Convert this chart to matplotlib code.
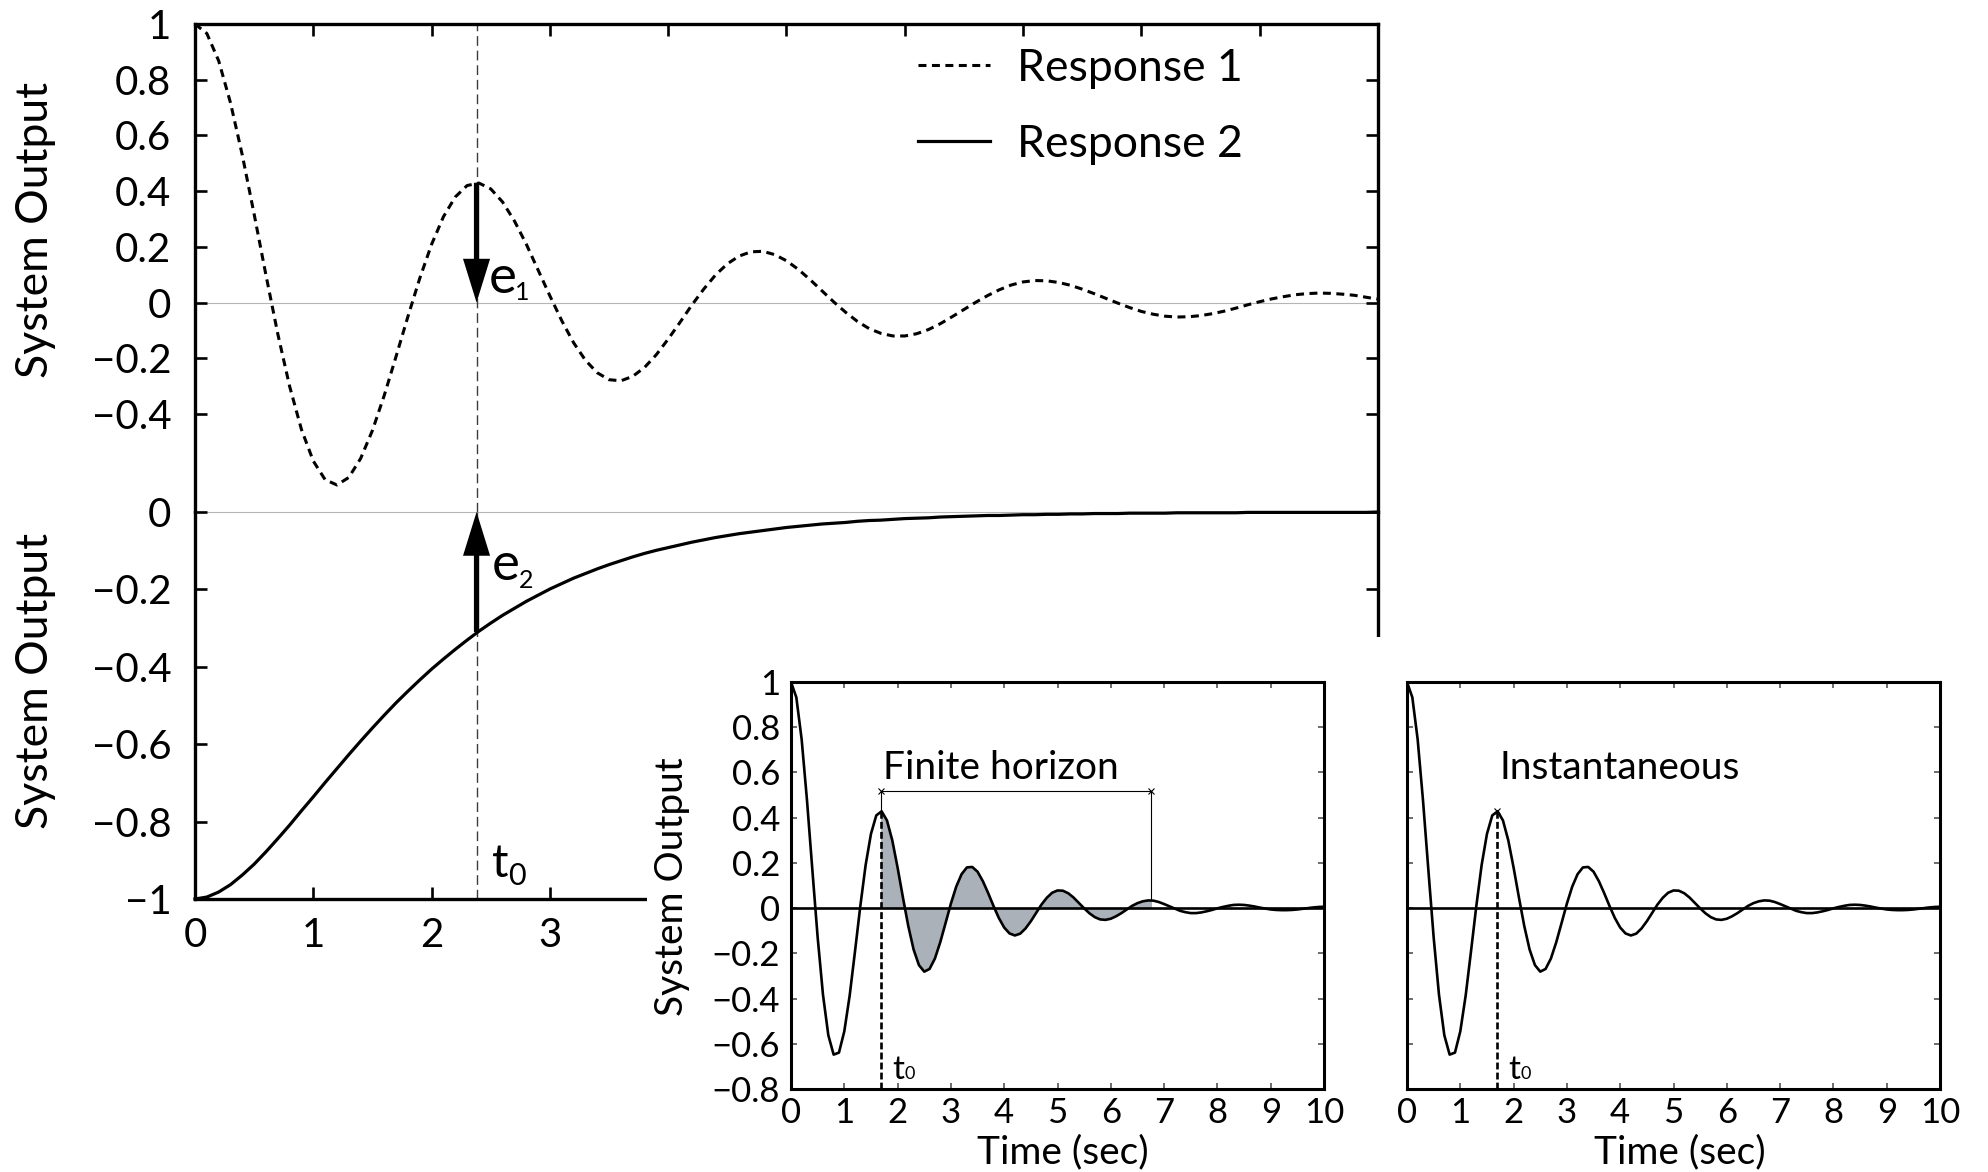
import numpy as np
import matplotlib
matplotlib.use("Agg")
import matplotlib.pyplot as plt
from matplotlib.patches import FancyArrowPatch, Rectangle

plt.rcParams["font.family"] = ["Lato", "DejaVu Sans"]
plt.rcParams["mathtext.default"] = "regular"

# ---------------------------------------------------------------- data
time_main = np.linspace(0, 10, 101)

response_1 = [
    1.000, 0.966, 0.868, 0.717, 0.529, 0.317, 0.098, -0.113, -0.301, -0.456,
    -0.569, -0.636, -0.655, -0.628, -0.560, -0.459, -0.333, -0.193, -0.050, 0.087,
    0.209, 0.308, 0.379, 0.420, 0.429, 0.408, 0.361, 0.293, 0.210, 0.117,
    0.024, -0.065, -0.144, -0.207, -0.252, -0.277, -0.281, -0.265, -0.233, -0.187,
    -0.131, -0.071, -0.009, 0.048, 0.099, 0.139, 0.167, 0.182, 0.184, 0.172,
    0.150, 0.119, 0.082, 0.042, 0.002, -0.035, -0.068, -0.094, -0.111, -0.120,
    -0.120, -0.112, -0.097, -0.076, -0.051, -0.025, 0.001, 0.025, 0.046, 0.063,
    0.074, 0.079, 0.078, 0.072, 0.062, 0.048, 0.032, 0.015, -0.002, -0.018,
    -0.032, -0.042, -0.049, -0.052, -0.051, -0.047, -0.040, -0.031, -0.020, -0.008,
    0.003, 0.013, 0.021, 0.028, 0.032, 0.034, 0.033, 0.030, 0.026, 0.019,
    0.012,
]

response_2 = [
    -1.000, -0.995, -0.982, -0.963, -0.938, -0.910, -0.878, -0.844, -0.809, -0.772,
    -0.736, -0.699, -0.663, -0.627, -0.592, -0.558, -0.525, -0.493, -0.463, -0.434,
    -0.406, -0.380, -0.355, -0.331, -0.308, -0.287, -0.267, -0.249, -0.231, -0.215,
    -0.199, -0.185, -0.171, -0.159, -0.147, -0.136, -0.126, -0.116, -0.107, -0.099,
    -0.092, -0.085, -0.078, -0.072, -0.066, -0.061, -0.056, -0.052, -0.048, -0.044,
    -0.040, -0.037, -0.034, -0.031, -0.029, -0.027, -0.024, -0.022, -0.021, -0.019,
    -0.017, -0.016, -0.015, -0.013, -0.012, -0.011, -0.010, -0.009, -0.009, -0.008,
    -0.007, -0.007, -0.006, -0.006, -0.005, -0.005, -0.004, -0.004, -0.004, -0.003,
    -0.003, -0.003, -0.003, -0.002, -0.002, -0.002, -0.002, -0.002, -0.002, -0.001,
    -0.001, -0.001, -0.001, -0.001, -0.001, -0.001, -0.001, -0.001, -0.001, -0.001,
    0.000,
]

time_inset = np.linspace(0, 10, 101)

inset_output = [
    1.000, 0.932, 0.746, 0.477, 0.171, -0.129, -0.383, -0.562, -0.648, -0.639,
    -0.545, -0.388, -0.193, 0.008, 0.190, 0.328, 0.410, 0.428, 0.388, 0.300,
    0.179, 0.047, -0.079, -0.183, -0.252, -0.281, -0.269, -0.223, -0.151, -0.066,
    0.020, 0.095, 0.150, 0.180, 0.182, 0.161, 0.119, 0.066, 0.009, -0.044,
    -0.086, -0.112, -0.121, -0.113, -0.090, -0.058, -0.021, 0.016, 0.046, 0.068,
    0.078, 0.077, 0.066, 0.047, 0.023, -0.001, -0.023, -0.040, -0.050, -0.052,
    -0.047, -0.036, -0.022, -0.006, 0.010, 0.022, 0.030, 0.034, 0.033, 0.027,
    0.018, 0.008, -0.002, -0.012, -0.018, -0.022, -0.022, -0.019, -0.014, -0.008,
    -0.001, 0.005, 0.010, 0.014, 0.015, 0.014, 0.011, 0.007, 0.002, -0.002,
    -0.006, -0.008, -0.009, -0.009, -0.008, -0.006, -0.003, 0.000, 0.003, 0.005,
    0.006,
]

t0_main = 2.38          # evaluation instant in the large plot
e1_start = 0.43         # Response 1 at t0
e2_start = -0.31        # Response 2 at t0
t0_inset = 1.68         # evaluation instant in the small plots
inset_peak = 0.43       # output at t0 in the small plots
horizon_end = 6.75      # end of the finite horizon window
horizon_level = 0.52    # height of the horizon bracket
horizon_tail = 0.034    # output at the end of the window

main_yticks_top = [-0.4, -0.2, 0, 0.2, 0.4, 0.6, 0.8, 1]
main_yticks_bottom = [-1, -0.8, -0.6, -0.4, -0.2, 0]
inset_yticks = [-0.8, -0.6, -0.4, -0.2, 0, 0.2, 0.4, 0.6, 0.8, 1]
xticks = list(range(0, 11))
main_xlabel_max = 3     # the small plots sit over the later part of the time axis


def fmt(v):
    return f"{v:g}".replace("-", "\u2212")


# ---------------------------------------------------------------- layout
W, H = 1988, 1172
DPI = 100
fig = plt.figure(figsize=(W / DPI, H / DPI), dpi=DPI, facecolor="white")


def px_axes(x0, y0, x1, y1):
    return fig.add_axes([x0 / W, 1 - y1 / H, (x1 - x0) / W, (y1 - y0) / H])


PT = DPI / 72.0   # pixels per point
GREY_ZERO = "#b5b5b5"
DASH_GREY = "#3c3c3c"
FILL = "#aab1b9"


def sub_label(ax, x, y, base, sub, size, sub_size, dx_px, dy_px):
    ax.text(x, y, base, fontsize=size, ha="left", va="baseline", zorder=6)
    ax.annotate(sub, xy=(x, y), xytext=(dx_px / PT, -dy_px / PT),
                textcoords="offset points", fontsize=sub_size,
                ha="left", va="baseline", zorder=6)


def arrow(ax, x, y_from, y_to):
    ax.add_patch(FancyArrowPatch(
        (x, y_from), (x, y_to),
        arrowstyle="simple,head_length=31.5,head_width=19.5,tail_width=3.8",
        mutation_scale=1, color="black", lw=0, shrinkA=0, shrinkB=0, zorder=5))


# ---------------------------------------------------------------- main, upper
ax_top = px_axes(195, 24, 1378, 512)
ax_top.set_xlim(0, 10)
ax_top.set_ylim(-0.752, 1)
ax_top.axhline(0, color=GREY_ZERO, lw=0.8, zorder=1)
ax_top.axvline(t0_main, color=DASH_GREY, lw=1.0, ls=(0, (7, 3.5)), zorder=2)
line_1, = ax_top.plot(time_main, response_1, color="black", lw=2.2,
                      ls=(0, (2.6, 1.8)), label="Response 1", zorder=3)
arrow(ax_top, t0_main, e1_start, 0)
sub_label(ax_top, 2.48, 0.034, "e", "1", 38, 18, 27, 7)

ax_top.spines["bottom"].set_visible(False)
for s in ("top", "left", "right"):
    ax_top.spines[s].set_linewidth(2.4)
ax_top.set_xticks(xticks)
ax_top.tick_params(axis="x", which="both", top=True, bottom=False,
                   labelbottom=False, direction="in", length=8.6, width=1.9)
ax_top.set_yticks(main_yticks_top)
ax_top.set_yticklabels([fmt(v) for v in main_yticks_top])
ax_top.tick_params(axis="y", left=True, right=True, direction="in",
                   length=8.6, width=1.9, labelsize=29, pad=17)

# ---------------------------------------------------------------- main, lower
ax_bot = px_axes(195, 512, 1378, 899)
ax_bot.set_xlim(0, 10)
ax_bot.set_ylim(-1, 0)
ax_bot.axhline(0, color=GREY_ZERO, lw=0.8, zorder=1, clip_on=False)
ax_bot.axvline(t0_main, color=DASH_GREY, lw=1.0, ls=(0, (7, 3.5)), zorder=2)
line_2, = ax_bot.plot(time_main, response_2, color="black", lw=2.3,
                      label="Response 2", zorder=3, clip_on=False)
arrow(ax_bot, t0_main, e2_start, 0)
sub_label(ax_bot, 2.51, -0.176, "e", "2", 38, 18, 27, 8)
sub_label(ax_bot, 2.51, -0.943, "t", "0", 33, 22, 16, 8)

ax_bot.spines["top"].set_visible(False)
for s in ("bottom", "left", "right"):
    ax_bot.spines[s].set_linewidth(2.4)
ax_bot.set_xticks(xticks)
ax_bot.set_xticklabels([fmt(v) if v <= main_xlabel_max else "" for v in xticks])
ax_bot.tick_params(axis="x", bottom=True, top=False, direction="in",
                   length=8.6, width=1.9, labelsize=29, pad=13)
ax_bot.set_yticks(main_yticks_bottom)
ax_bot.set_yticklabels([fmt(v) for v in main_yticks_bottom])
ax_bot.tick_params(axis="y", left=True, right=True, direction="in",
                   length=8.6, width=1.9, labelsize=29, pad=17)

ax_top.legend(handles=[line_1, line_2], loc="upper left",
              bbox_to_anchor=(918 / W, 1 - 48 / H), bbox_transform=fig.transFigure,
              frameon=False, fontsize=32, handlelength=1.62, handletextpad=0.6,
              labelspacing=0.78, borderpad=0, borderaxespad=0)

fig.text(36 / W, 1 - 230 / H, "System Output", rotation=90, ha="center",
         va="center", fontsize=32)
fig.text(36 / W, 1 - 681 / H, "System Output", rotation=90, ha="center",
         va="center", fontsize=32)

# white panel that carries the two small plots
fig.add_artist(Rectangle((647 / W, 0), 1 - 647 / W, 1 - 637 / H,
                         transform=fig.transFigure, facecolor="white",
                         edgecolor="none", zorder=1))


# ---------------------------------------------------------------- small plots
def setup_inset(ax, show_ylabels):
    ax.set_zorder(2)
    ax.set_xlim(0, 10)
    ax.set_ylim(-0.8, 1)
    for s in ax.spines.values():
        s.set_linewidth(2.2)
    ax.set_xticks(xticks)
    ax.set_xticklabels([fmt(v) for v in xticks])
    ax.set_yticks(inset_yticks)
    ax.set_yticklabels([fmt(v) for v in inset_yticks])
    ax.tick_params(axis="both", direction="in", top=True, right=True,
                   length=4, width=1.1, color="#444444", labelsize=25)
    ax.tick_params(axis="x", pad=6)
    ax.tick_params(axis="y", pad=8, labelleft=show_ylabels)
    ax.axhline(0, color="black", lw=1.9, zorder=3)
    ax.plot(time_inset, inset_output, color="black", lw=1.9, zorder=4)
    ax.vlines(t0_inset, -0.8, inset_peak, color="black", lw=1.9,
              linestyles=(0, (2.6, 1.2)), zorder=5)
    sub_label(ax, 1.895, -0.757, "t", "0", 24, 13, 12, 0)


ax_fin = px_axes(791, 682, 1324, 1089)
setup_inset(ax_fin, True)
band = ax_fin.fill_between(time_inset, inset_output, 0, color=FILL, lw=0, zorder=2)
band.set_clip_path(Rectangle((t0_inset, -1), horizon_end - t0_inset, 2,
                             transform=ax_fin.transData))
ax_fin.plot([t0_inset, horizon_end], [horizon_level, horizon_level],
            color="black", lw=0.8, zorder=5)
ax_fin.plot([t0_inset, horizon_end], [horizon_level, horizon_level], ls="none",
            marker="x", ms=5, mew=0.8, color="black", zorder=5)
ax_fin.vlines(t0_inset, inset_peak, horizon_level, color="black", lw=0.8, zorder=5)
ax_fin.vlines(horizon_end, horizon_tail, horizon_level, color="black", lw=0.8, zorder=5)
ax_fin.text(1.73, 0.571, "Finite horizon", fontsize=28, ha="left", va="baseline")

ax_ins = px_axes(1407, 682, 1940, 1089)
setup_inset(ax_ins, False)
ax_ins.plot([t0_inset], [inset_peak], ls="none", marker="x", ms=5, mew=0.8,
            color="black", zorder=6)
ax_ins.text(1.73, 0.571, "Instantaneous", fontsize=28, ha="left", va="baseline")

fig.text(672 / W, 1 - 887 / H, "System Output", rotation=90, ha="center",
         va="center", fontsize=28, zorder=3)
fig.text(1063 / W, 1 - 1152 / H, "Time (sec)", ha="center", va="center",
         fontsize=28, zorder=3)
fig.text(1680 / W, 1 - 1152 / H, "Time (sec)", ha="center", va="center",
         fontsize=28, zorder=3)

fig.savefig("out.png", dpi=DPI, facecolor="white")
